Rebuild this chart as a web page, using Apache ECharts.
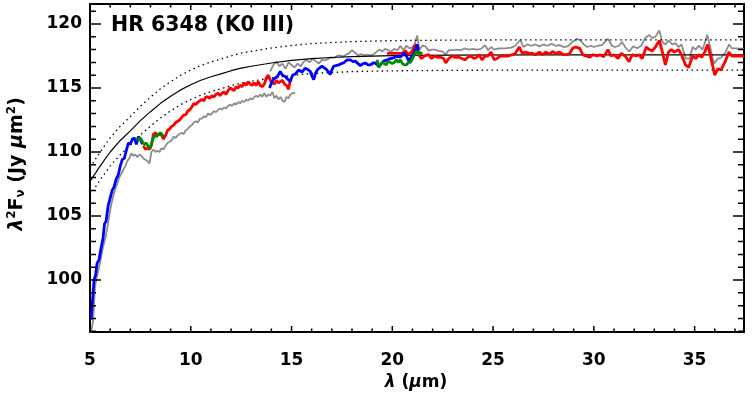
<!DOCTYPE html>
<html>
<head>
<meta charset="utf-8">
<script src="https://cdn.jsdelivr.net/npm/echarts@6/dist/echarts.min.js"></script>
<style>html,body{margin:0;padding:0;background:#fff}#c{width:752px;height:405px}</style>
</head>
<body>
<div id="c"></div>
<script>
// ---- tick values ----
const xMajor = [5, 10, 15, 20, 25, 30, 35];
const xMinor = [6,7,8,9,11,12,13,14,16,17,18,19,21,22,23,24,26,27,28,29,31,32,33,34,36,37];
const yMajor = [100, 105, 110, 115, 120];
const yMinor = [96,97,98,99,101,102,103,104,106,107,108,109,111,112,113,114,116,117,118,119,121];

// ---- model photosphere (solid) and +/-1% (dotted) ----
const modelX = [5,5.5,6,6.5,7,7.5,8,8.5,9,9.5,10,10.5,11,11.5,12,12.5,13,14,15,16,17,18,20,23,27,37.45];
const modelY = [107.7,108.9,110.0,110.9,111.65,112.45,113.15,113.8,114.35,114.85,115.25,115.6,115.88,116.1,116.35,116.55,116.7,116.95,117.15,117.3,117.38,117.45,117.52,117.56,117.58,117.58];
const upperY = [108.78,109.99,111.1,112.01,112.77,113.57,114.28,114.94,115.49,116.0,116.4,116.76,117.04,117.26,117.51,117.72,117.87,118.12,118.32,118.47,118.55,118.62,118.7,118.74,118.76,118.76];
const lowerY = [106.62,107.81,108.9,109.79,110.53,111.33,112.02,112.66,113.21,113.7,114.1,114.44,114.72,114.94,115.19,115.38,115.53,115.78,115.98,116.13,116.21,116.28,116.34,116.38,116.4,116.4];

// ---- gray spectra ----
const grayLow = [[5.05,95.9],[5.15,96.8],[5.25,99.5],[5.35,100.3],[5.45,101.0],[5.55,101.8],[5.65,102.6],[5.75,103.2],[5.85,104.0],[5.95,105.0],[6.05,105.9],[6.15,106.5],[6.25,107.1],[6.35,107.5],[6.45,108.0],[6.55,108.3],[6.65,108.6],[6.75,108.9],[6.85,109.3],[6.95,109.5],[7.05,109.9],[7.15,109.7],[7.25,109.8],[7.35,109.6],[7.45,109.8],[7.55,109.7],[7.65,109.5],[7.75,109.4],[7.85,109.3],[7.95,109.1],[8.05,110.0],[8.15,110.2],[8.25,110.0],[8.35,110.1],[8.45,110.0],[8.55,110.3],[8.65,110.2],[8.75,110.5],[8.85,110.7],[8.95,110.8],[9.05,110.9],[9.15,111.2],[9.25,111.1],[9.35,111.3],[9.45,111.4],[9.55,111.5],[9.65,111.4],[9.75,111.7],[9.85,111.8],[9.95,112.0],[10.05,112.1],[10.15,112.3],[10.25,112.4],[10.35,112.3],[10.45,112.6],[10.55,112.6],[10.65,112.8],[10.75,112.7],[10.85,113.0],[10.95,112.9],[11.05,113.0],[11.15,113.2],[11.25,113.1],[11.35,113.3],[11.45,113.4],[11.55,113.3],[11.65,113.5],[11.75,113.4],[11.85,113.6],[11.95,113.7],[12.05,113.6],[12.15,113.8],[12.25,113.7],[12.35,113.9],[12.45,113.8],[12.55,114.0],[12.65,113.9],[12.75,114.1],[12.85,114.0],[12.95,114.2],[13.05,114.1],[13.15,114.3],[13.25,114.4],[13.35,114.3],[13.45,114.5],[13.55,114.3],[13.65,114.6],[13.75,114.3],[13.85,114.5],[13.95,114.4],[14.05,114.7],[14.15,114.2],[14.25,114.4],[14.35,114.1],[14.45,114.3],[14.55,114.0],[14.65,113.9],[14.75,114.3],[14.85,114.2],[14.95,114.5],[15.05,114.6],[15.18,114.6]];
const grayHigh = [[13.94,116.3],[14.1,116.8],[14.27,117.05],[14.4,116.7],[14.55,116.9],[14.7,116.5],[14.85,117.0],[15.0,116.8],[15.15,116.6],[15.3,116.9],[15.45,116.7],[15.6,117.05],[15.75,117.2],[15.9,117.0],[16.05,117.3],[16.2,117.1],[16.35,116.9],[16.5,117.2],[16.65,117.15],[16.8,117.25],[16.95,117.4],[17.1,117.35],[17.25,117.5],[17.4,117.55],[17.55,117.45],[17.7,117.6],[17.85,117.7],[18.0,117.95],[18.15,117.75],[18.3,117.55],[18.45,117.65],[18.6,117.55],[18.75,117.6],[18.9,117.55],[19.05,117.6],[19.2,117.8],[19.35,118.0],[19.5,117.85],[19.65,118.05],[19.8,117.95],[19.95,117.85],[20.1,118.05],[20.25,117.95],[20.4,118.3],[20.55,117.95],[20.7,118.3],[20.85,118.1],[21.0,118.2],[21.1,118.4],[21.23,119.1],[21.35,118.0],[21.5,118.3],[21.65,118.25],[21.8,117.9],[21.95,118.0],[22.1,118.0],[22.3,117.9],[22.5,117.85],[22.64,117.6],[22.8,117.95],[23.0,117.95],[23.2,118.0],[23.4,117.95],[23.6,118.1],[23.8,118.0],[24.0,118.05],[24.2,118.0],[24.4,118.05],[24.6,118.35],[24.75,117.95],[24.9,118.2],[25.05,118.0],[25.3,118.1],[25.6,118.1],[25.9,118.15],[26.1,118.3],[26.35,118.75],[26.5,118.2],[26.7,118.4],[26.9,118.3],[27.1,118.4],[27.3,118.25],[27.5,118.4],[27.7,118.3],[27.9,118.45],[28.1,118.3],[28.3,118.35],[28.5,118.2],[28.7,118.25],[28.9,118.55],[29.17,118.85],[29.35,118.7],[29.5,118.4],[29.67,118.2],[29.85,118.3],[30.0,118.2],[30.2,118.3],[30.4,118.35],[30.7,118.85],[30.9,118.3],[31.05,118.2],[31.25,118.3],[31.4,118.6],[31.55,118.2],[31.75,117.85],[31.95,118.25],[32.15,118.1],[32.35,118.3],[32.55,118.9],[32.74,119.15],[32.9,118.9],[33.05,119.0],[33.25,119.5],[33.4,118.6],[33.55,118.4],[33.7,118.7],[33.9,118.4],[34.05,118.5],[34.2,118.2],[34.35,118.4],[34.56,117.3],[34.75,117.3],[34.9,118.2],[35.05,118.0],[35.2,118.3],[35.4,118.0],[35.63,119.15],[35.8,118.0],[35.96,116.9],[36.15,117.3],[36.3,117.35],[36.5,117.7],[36.71,118.4],[36.85,118.1],[37.1,118.1],[37.45,118.05]];

// ---- coloured spectra ----
const blue1 = [[5.05,96.9],[5.12,98.3],[5.2,100.0],[5.28,100.4],[5.35,101.3],[5.45,101.6],[5.55,102.5],[5.65,103.3],[5.72,104.4],[5.8,104.6],[5.9,105.8],[6.0,106.4],[6.1,107.0],[6.2,107.3],[6.3,107.9],[6.4,108.2],[6.5,108.9],[6.6,109.4],[6.7,109.5],[6.8,110.1],[6.9,110.7],[7.0,110.6],[7.1,111.0],[7.2,111.1],[7.3,110.6],[7.4,111.2],[7.5,111.0],[7.6,110.6]];
const blue2 = [[13.91,115.0],[14.0,115.4],[14.11,115.7],[14.2,115.6],[14.3,115.9],[14.44,116.3],[14.55,116.0],[14.69,115.9],[14.8,115.7],[14.93,115.5],[15.05,116.0],[15.2,116.1],[15.35,116.4],[15.52,116.25],[15.68,116.55],[15.8,116.45],[15.93,116.3],[16.02,115.9],[16.1,115.65],[16.2,116.2],[16.3,116.45],[16.51,116.7],[16.65,116.55],[16.76,116.4],[16.92,116.05],[17.0,116.4],[17.09,116.7],[17.2,116.75],[17.34,116.8],[17.46,116.9],[17.58,116.95],[17.76,117.2],[17.92,117.2],[18.05,117.05],[18.16,117.1],[18.3,116.9],[18.41,116.75],[18.55,116.9],[18.66,116.95],[18.8,116.8],[18.91,116.8],[19.05,116.95],[19.16,116.95],[19.32,116.7],[19.45,116.9],[19.57,117.1],[19.75,117.2],[19.9,117.3],[20.05,117.35],[20.24,117.5],[20.4,117.4],[20.57,117.75],[20.7,117.5],[20.82,117.1],[20.9,117.2],[21.06,117.7],[21.15,118.0],[21.23,118.4],[21.3,117.9]];
const green1 = [[7.3,111.1],[7.4,110.9],[7.5,111.1],[7.6,110.8],[7.7,110.6],[7.8,110.7],[7.9,110.4],[8.0,110.3],[8.1,110.9],[8.2,111.3],[8.3,111.2],[8.4,111.4],[8.5,111.5],[8.6,111.3],[8.7,111.2]];
const green2 = [[19.25,117.2],[19.32,116.6],[19.4,116.6],[19.5,117.0],[19.6,116.9],[19.7,116.8],[19.8,117.1],[19.9,117.0],[20.0,116.9],[20.1,117.0],[20.2,117.2],[20.3,117.0],[20.4,117.2],[20.5,116.9],[20.6,116.8],[20.7,116.8],[20.8,117.0],[20.9,117.0],[21.0,117.3],[21.1,117.6],[21.2,117.9],[21.3,117.6],[21.4,117.8],[21.47,117.6]];
const red1 = [[7.65,110.5],[7.75,110.2],[7.85,110.3],[7.95,110.2],[8.05,110.6],[8.15,111.4],[8.25,111.5],[8.35,111.3],[8.45,111.4],[8.55,111.3],[8.65,111.0],[8.75,111.3],[8.85,111.7],[8.95,111.8],[9.05,112.0],[9.15,112.1],[9.25,112.3],[9.35,112.4],[9.45,112.5],[9.55,112.7],[9.65,112.9],[9.75,112.9],[9.85,113.2],[9.95,113.3],[10.05,113.5],[10.15,113.8],[10.25,113.7],[10.35,113.9],[10.45,114.0],[10.55,114.1],[10.65,114.0],[10.75,114.3],[10.85,114.3],[10.95,114.2],[11.05,114.4],[11.15,114.3],[11.25,114.5],[11.35,114.6],[11.45,114.4],[11.55,114.6],[11.65,114.7],[11.75,114.5],[11.85,114.8],[11.95,115.0],[12.05,114.9],[12.15,114.8],[12.25,115.1],[12.35,115.0],[12.45,115.2],[12.55,115.1],[12.65,115.4],[12.75,115.2],[12.85,115.5],[12.95,115.3],[13.05,115.2],[13.15,115.4],[13.25,115.2],[13.35,115.5],[13.45,115.2],[13.55,115.1],[13.65,115.3],[13.75,115.8],[13.85,116.0],[13.95,115.6],[14.05,115.4],[14.15,115.3],[14.25,115.6],[14.35,115.4],[14.45,115.5],[14.55,115.6],[14.65,115.3],[14.75,115.2],[14.85,114.9],[14.95,115.7]];
const red2 = [[19.74,117.7],[19.9,117.7],[20.1,117.7],[20.3,117.7],[20.5,117.7],[20.65,117.9],[20.8,117.6],[20.95,117.8],[21.08,118.2],[21.2,118.4],[21.3,117.6],[21.45,117.3],[21.6,117.5],[21.8,117.6],[21.95,117.3],[22.1,117.5],[22.25,117.4],[22.4,117.4],[22.55,117.3],[22.65,116.95],[22.8,117.3],[22.95,117.5],[23.1,117.4],[23.3,117.4],[23.45,117.3],[23.6,117.2],[23.75,117.4],[23.9,117.5],[24.05,117.3],[24.2,117.4],[24.3,117.6],[24.45,117.2],[24.6,117.5],[24.75,117.5],[24.9,117.8],[25.05,117.2],[25.2,117.3],[25.35,117.5],[25.55,117.5],[25.75,117.5],[25.95,117.6],[26.1,117.7],[26.3,118.2],[26.45,117.7],[26.6,117.8],[26.8,117.7],[26.95,117.7],[27.1,117.6],[27.3,117.8],[27.45,117.6],[27.6,117.8],[27.8,117.65],[27.95,117.85],[28.1,117.7],[28.3,117.8],[28.5,117.6],[28.65,117.6],[28.8,117.7],[28.95,118.1],[29.1,118.2],[29.3,118.1],[29.45,117.6],[29.6,117.5],[29.8,117.4],[29.95,117.6],[30.15,117.5],[30.3,117.6],[30.5,117.45],[30.7,118.0],[30.85,117.5],[31.0,117.6],[31.2,117.3],[31.35,117.7],[31.55,117.5],[31.75,117.05],[31.9,117.6],[32.1,117.5],[32.25,117.6],[32.4,117.3],[32.6,118.2],[32.75,118.0],[32.9,117.9],[33.05,118.2],[33.25,118.7],[33.4,117.8],[33.55,116.8],[33.7,117.8],[33.85,118.0],[34.0,117.8],[34.2,118.0],[34.35,117.6],[34.55,116.8],[34.7,116.6],[34.9,117.5],[35.05,117.3],[35.2,117.6],[35.35,117.4],[35.5,117.8],[35.65,118.4],[35.8,117.4],[36.0,116.0],[36.15,116.5],[36.3,116.4],[36.5,117.0],[36.7,117.8],[36.85,117.5],[37.1,117.5],[37.45,117.5]];

const FONT = 'DejaVu Sans';
const X_MIN = 5, X_MAX = 37.45, Y_MIN = 95.94, Y_MAX = 121.56;
// plot box in pixels (used only to turn tick lengths in px into axis units)
const PLOT_W = 654, PLOT_H = 328;
const X_PER_PX = (X_MAX - X_MIN) / PLOT_W, Y_PER_PX = (Y_MAX - Y_MIN) / PLOT_H;

function pairs(xs, ys) { return xs.map((x, i) => [x, ys[i]]); }

function xAx(pos, showLabel) {
  return {
    type: 'value', min: X_MIN, max: X_MAX, position: pos,
    splitNumber: 6, minInterval: 5, maxInterval: 5,
    axisLine: { show: true, onZero: false, lineStyle: { color: '#000', width: 2 } },
    axisTick: { show: false },
    axisLabel: { show: showLabel, showMinLabel: true, showMaxLabel: false, margin: 20, color: '#000', fontFamily: FONT, fontWeight: 'bold', fontSize: 17 },
    splitLine: { show: false }
  };
}
function yAx(pos, showLabel) {
  return {
    type: 'value', min: Y_MIN, max: Y_MAX, position: pos,
    splitNumber: 5, minInterval: 5, maxInterval: 5,
    axisLine: { show: true, onZero: false, lineStyle: { color: '#000', width: 2 } },
    axisTick: { show: false },
    axisLabel: { show: showLabel, showMinLabel: false, showMaxLabel: false, margin: 8, color: '#000', fontFamily: FONT, fontWeight: 'bold', fontSize: 17 },
    splitLine: { show: false }
  };
}

function line(data, color, width, type) {
  return {
    type: 'line', data: data, showSymbol: false,
    lineStyle: { color: color, width: width, type: type || 'solid' }
  };
}

// inward ticks on all four sides as broken line series built from the tick arrays
function xTickSeries(values, lenPx) {
  const d = lenPx * Y_PER_PX;
  const data = [];
  values.forEach(v => {
    data.push([v, Y_MIN], [v, Y_MIN + d], [v, '-'], [v, Y_MAX], [v, Y_MAX - d], [v, '-']);
  });
  return { type: 'line', data: data, showSymbol: false, connectNulls: false, z: 10,
           lineStyle: { color: '#000', width: 1.5, cap: 'butt' } };
}
function yTickSeries(values, lenPx) {
  const d = lenPx * X_PER_PX;
  const data = [];
  values.forEach(v => {
    data.push([X_MIN, v], [X_MIN + d, v], ['-', v], [X_MAX, v], [X_MAX - d, v], ['-', v]);
  });
  return { type: 'line', data: data, showSymbol: false, connectNulls: false, z: 10,
           lineStyle: { color: '#000', width: 1.5, cap: 'butt' } };
}

const chart = echarts.init(document.getElementById('c'));
chart.setOption({
  animation: false,
  backgroundColor: '#fff',
  grid: { left: 90, right: 8, top: 4, bottom: 73, containLabel: false, outerBoundsMode: 'none' },
  xAxis: [xAx('bottom', true), xAx('top', false)],
  yAxis: [yAx('left', true), yAx('right', false)],
  series: [
    line(grayLow, '#8c8c8c', 1.8),
    line(grayHigh, '#8c8c8c', 1.8),
    line(pairs(modelX, modelY), '#000', 1.2),
    line(pairs(modelX, upperY), '#000', 1.3, [1.5, 3.5]),
    line(pairs(modelX, lowerY), '#000', 1.3, [1.5, 3.5]),
    line(red1, '#ff0000', 2.8),
    line(red2, '#ff0000', 2.8),
    line(blue1, '#0000ff', 2.8),
    line(blue2, '#0000ff', 2.8),
    line(green1, '#008b00', 2.8),
    line(green2, '#008b00', 2.8),
    xTickSeries(xMajor, 6),
    xTickSeries(xMinor, 3.5),
    yTickSeries(yMajor, 11),
    yTickSeries(yMinor, 6)
  ],
  graphic: [
    {
      type: 'text', x: 111, y: 26, z: 100, silent: true,
      style: { text: 'HR 6348 (K0 III)', fontFamily: FONT, fontWeight: 'bold', fontSize: 20.5, fill: '#000', align: 'left', verticalAlign: 'middle' }
    },
    {
      type: 'text', x: 416, y: 383, z: 100, silent: true,
      style: {
        text: '{i|λ}{b| (}{i|μ}{b|m)}', align: 'center', verticalAlign: 'middle', fill: '#000',
        rich: {
          b: { fontFamily: FONT, fontWeight: 'bold', fontSize: 17, fill: '#000' },
          i: { fontFamily: FONT, fontWeight: 'bold', fontStyle: 'italic', fontSize: 17, fill: '#000' }
        }
      }
    },
    {
      type: 'text', x: 17, y: 164, rotation: Math.PI / 2, z: 100, silent: true,
      style: {
        text: '{i|λ}{sup|2}{b|F}{sub|ν}{b| (Jy }{i|μ}{b|m}{sup|2}{b|)}', align: 'center', verticalAlign: 'middle', fill: '#000',
        rich: {
          b: { fontFamily: FONT, fontWeight: 'bold', fontSize: 19, fill: '#000' },
          i: { fontFamily: FONT, fontWeight: 'bold', fontStyle: 'italic', fontSize: 19, fill: '#000' },
          sup: { fontFamily: FONT, fontWeight: 'bold', fontSize: 12, fill: '#000', padding: [0, 0, 10, 0] },
          sub: { fontFamily: FONT, fontWeight: 'bold', fontSize: 12, fill: '#000', padding: [7, 0, 0, 0] }
        }
      }
    }
  ]
});
</script>
</body>
</html>
